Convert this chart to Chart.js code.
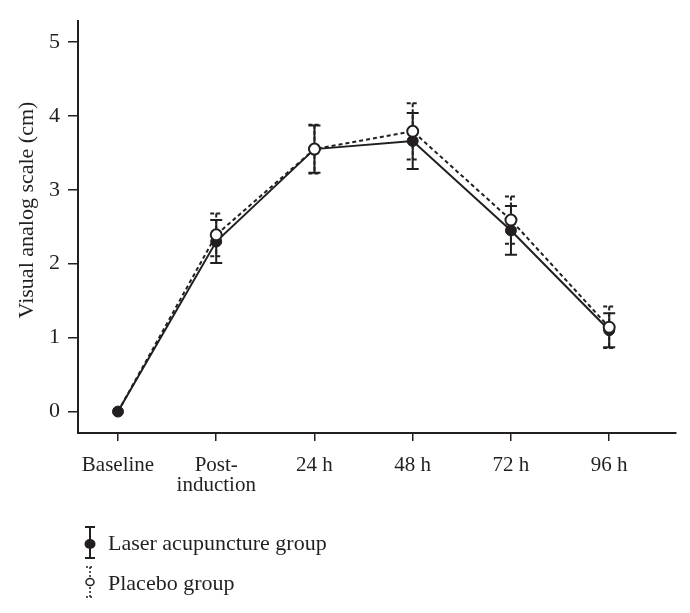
<!DOCTYPE html>
<html>
<head>
<meta charset="utf-8">
<script src="https://cdn.jsdelivr.net/npm/chart.js@4"></script>
<style>
    html, body { margin: 0; padding: 0; background: #fff; }
    #wrap { width: 690px; height: 613px; }
</style>
</head>
<body>
<div id="wrap"><canvas id="vas_chart" width="690" height="613"></canvas></div>
<script>
// Данные графика
const categories = ['Baseline', ['Post-', 'induction'], '24 h', '48 h', '72 h', '96 h'];
const laserMean = [0, 2.30, 3.55, 3.66, 2.45, 1.10];
const laserSD = [0, 0.29, 0.32, 0.38, 0.33, 0.23];
const placeboMean = [0, 2.39, 3.55, 3.79, 2.59, 1.14];
const placeboSD = [0, 0.29, 0.33, 0.38, 0.32, 0.28];
const yTicks = [0, 1, 2, 3, 4, 5];
const xTicks = [0, 1, 2, 3, 4, 5];

const INK = '#231f20';
const FONT = '"Liberation Serif", "DejaVu Serif", serif';

function toPoints(values) {
    return values.map((v, i) => ({ x: i, y: v }));
}

// Планки погрешностей
function drawBars(ctx, x, y, means, sds, dash) {
    ctx.save();
    ctx.strokeStyle = INK;
    ctx.lineWidth = 2;
    ctx.setLineDash(dash);
    means.forEach((m, i) => {
        if (!sds[i]) return;
        const px = x.getPixelForValue(i);
        const top = y.getPixelForValue(m + sds[i]);
        const bottom = y.getPixelForValue(m - sds[i]);
        ctx.beginPath();
        ctx.moveTo(px, top);
        ctx.lineTo(px, bottom);
        ctx.moveTo(px - 6, top);
        ctx.lineTo(px + 6, top);
        ctx.moveTo(px - 6, bottom);
        ctx.lineTo(px + 6, bottom);
        ctx.stroke();
    });
    ctx.restore();
}

const errorBars = {
    id: 'errorBars',
    beforeDatasetsDraw(chart) {
        const { ctx, scales: { x, y } } = chart;
        drawBars(ctx, x, y, laserMean, laserSD, []);
        drawBars(ctx, x, y, placeboMean, placeboSD, [4, 2]);
    }
};

// Подпись оси Y и легенда
const extras = {
    id: 'extras',
    afterDraw(chart) {
        const ctx = chart.ctx;
        ctx.save();
        ctx.fillStyle = INK;
        ctx.strokeStyle = INK;
        ctx.font = '22px ' + FONT;

        ctx.save();
        ctx.translate(27, 210);
        ctx.rotate(-Math.PI / 2);
        ctx.textAlign = 'center';
        ctx.textBaseline = 'middle';
        ctx.fillText('Visual analog scale (cm)', 0, 0);
        ctx.restore();

        // Laser acupuncture group
        ctx.lineWidth = 2;
        ctx.beginPath();
        ctx.moveTo(90, 527); ctx.lineTo(90, 558);
        ctx.moveTo(85, 527); ctx.lineTo(95, 527);
        ctx.moveTo(85, 558); ctx.lineTo(95, 558);
        ctx.stroke();
        ctx.beginPath();
        ctx.ellipse(90, 544, 5.5, 5, 0, 0, Math.PI * 2);
        ctx.fill();

        // Placebo group
        ctx.setLineDash([2, 2]);
        ctx.lineWidth = 1.5;
        ctx.beginPath();
        ctx.moveTo(90, 567); ctx.lineTo(90, 597);
        ctx.moveTo(86, 567); ctx.lineTo(94, 567);
        ctx.moveTo(86, 597); ctx.lineTo(94, 597);
        ctx.stroke();
        ctx.setLineDash([]);
        ctx.fillStyle = '#fff';
        ctx.beginPath();
        ctx.ellipse(90, 582, 4, 3.5, 0, 0, Math.PI * 2);
        ctx.fill();
        ctx.stroke();

        ctx.fillStyle = INK;
        ctx.textAlign = 'left';
        ctx.textBaseline = 'middle';
        ctx.fillText('Laser acupuncture group', 108, 544);
        ctx.fillText('Placebo group', 108, 584);
        ctx.restore();
    }
};

let chart = null;

function initializeChart() {
    const ctx = document.getElementById('vas_chart').getContext('2d');
    chart = new Chart(ctx, {
        type: 'line',
        data: {
            datasets: [
                {
                    label: 'Placebo group',
                    data: toPoints(placeboMean),
                    borderColor: INK,
                    borderWidth: 2,
                    borderDash: [4, 3],
                    pointRadius: c => c.dataIndex === 0 ? 0 : 5.5,
                    pointBackgroundColor: '#fff',
                    pointBorderColor: INK,
                    pointBorderWidth: 2,
                    fill: false,
                    tension: 0
                },
                {
                    label: 'Laser acupuncture group',
                    data: toPoints(laserMean),
                    borderColor: INK,
                    borderWidth: 2,
                    pointRadius: 5.5,
                    pointBackgroundColor: INK,
                    pointBorderColor: INK,
                    pointBorderWidth: 1,
                    fill: false,
                    tension: 0
                }
            ]
        },
        options: {
            responsive: false,
            animation: false,
            events: [],
            layout: { padding: { left: 0, right: 14, top: 14, bottom: 110 } },
            plugins: {
                legend: { display: false },
                tooltip: { enabled: false }
            },
            scales: {
                x: {
                    type: 'linear',
                    min: -0.407,
                    max: 5.68,
                    afterBuildTicks: axis => { axis.ticks = xTicks.map(v => ({ value: v })); },
                    afterFit: scale => { scale.height = 70; },
                    grid: { drawOnChartArea: false, drawTicks: true, tickLength: 8, color: INK, lineWidth: 1.5 },
                    border: { display: true, color: INK, width: 2 },
                    ticks: {
                        autoSkip: false,
                        maxRotation: 0,
                        padding: 14,
                        color: INK,
                        font: { family: FONT, size: 21, lineHeight: 0.97 },
                        callback: value => categories[value]
                    }
                },
                y: {
                    min: -0.29,
                    max: 5.28,
                    afterBuildTicks: axis => { axis.ticks = yTicks.map(v => ({ value: v })); },
                    afterFit: scale => { scale.width = 78; },
                    grid: { drawOnChartArea: false, drawTicks: true, tickLength: 10, color: INK, lineWidth: 1.5 },
                    border: { display: true, color: INK, width: 2 },
                    ticks: {
                        padding: 8,
                        color: INK,
                        font: { family: FONT, size: 22 }
                    }
                }
            }
        },
        plugins: [errorBars, extras]
    });
}

initializeChart();
</script>
</body>
</html>
